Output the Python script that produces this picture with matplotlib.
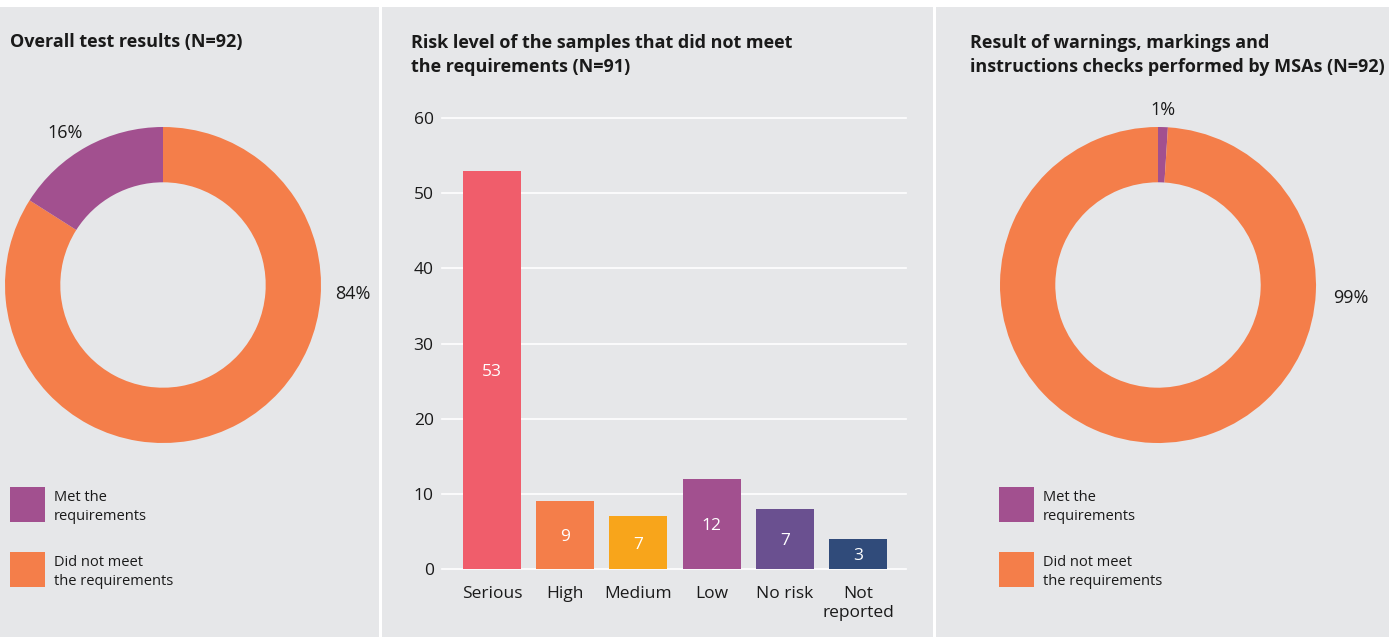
import matplotlib
matplotlib.use("Agg")
import matplotlib.pyplot as plt
from matplotlib.patches import Rectangle

# ---- data ----
overall_labels = ["Did not meet the requirements", "Met the requirements"]
overall_values = [84, 16]
risk_levels = ["Serious", "High", "Medium", "Low", "No risk", "Not\nreported"]
risk_bar_heights = [53, 9, 7, 12, 8, 4]      # heights as drawn
risk_value_labels = [53, 9, 7, 12, 7, 3]     # numbers printed on bars
warnings_values = [1, 99]                    # met, did not meet
legend_labels = ["Met the\nrequirements", "Did not meet\nthe requirements"]

PURPLE = "#a2508f"
ORANGE = "#f47e4a"
bar_colors = ["#f05d6b", "#f47e4a", "#f8a51b", "#a2508f", "#6a5090", "#304b7a"]
BG = "#e6e7e9"
TXT = "#1a1a1a"

W, H = 1389, 637
plt.rcParams['font.family'] = ['Open Sans', 'DejaVu Sans']


def px_axes(fig, x, y, w, h):
    # x, y = top-left in pixels
    return fig.add_axes([x / W, 1 - (y + h) / H, w / W, h / H])


def ftext(fig, x, y, s, **kw):
    fig.text(x / W, 1 - y / H, s, **kw)


fig = plt.figure(figsize=(W / 100, H / 100), dpi=100, facecolor="white")

# panel backgrounds
for x0, x1 in [(0, 379), (382, 933), (936, W)]:
    fig.patches.append(Rectangle((x0 / W, 0), (x1 - x0) / W, 1 - 7 / H,
                                 transform=fig.transFigure, facecolor=BG,
                                 edgecolor="none", zorder=-10))

title_kw = dict(fontsize=13, fontweight="bold", color=TXT, va="center",
                ha="left", linespacing=1.5)
ftext(fig, 10, 42, "Overall test results (N=92)", **title_kw)
ftext(fig, 411, 55, "Risk level of the samples that did not meet\nthe requirements (N=91)", **title_kw)
ftext(fig, 970, 55, "Result of warnings, markings and\ninstructions checks performed by MSAs (N=92)", **title_kw)

# ---- donut 1 ----
R = 158
ax1 = px_axes(fig, 163 - R, 285 - R, 2 * R, 2 * R)
ax1.pie(overall_values, colors=[ORANGE, PURPLE], startangle=90, counterclock=False,
        radius=1, wedgeprops=dict(width=0.35, edgecolor="none"))
ax1.set_xlim(-1, 1)
ax1.set_ylim(-1, 1)
ax1.set_aspect("equal")
ax1.axis("off")
ax1.text(-0.62, 0.96, f"{overall_values[1]}%", ha="center", va="center", fontsize=13, color=TXT)
ax1.text(1.2, -0.06, f"{overall_values[0]}%", ha="center", va="center", fontsize=13, color=TXT)

# ---- donut 3 ----
ax3 = px_axes(fig, 1158 - R, 285 - R, 2 * R, 2 * R)
ax3.pie(warnings_values, colors=[PURPLE, ORANGE], startangle=90, counterclock=False,
        radius=1, wedgeprops=dict(width=0.35, edgecolor="none"))
ax3.set_xlim(-1, 1)
ax3.set_ylim(-1, 1)
ax3.set_aspect("equal")
ax3.axis("off")
ax3.text(0.03, 1.11, f"{warnings_values[0]}%", ha="center", va="center", fontsize=13, color=TXT)
ax3.text(1.22, -0.08, f"{warnings_values[1]}%", ha="center", va="center", fontsize=13, color=TXT)

# ---- legends ----
for lx in (10, 999):
    for i, (lab, col) in enumerate(zip(legend_labels, [PURPLE, ORANGE])):
        y = 487 + i * 65
        fig.patches.append(Rectangle((lx / W, 1 - (y + 35) / H), 35 / W, 35 / H,
                                     transform=fig.transFigure, facecolor=col,
                                     edgecolor="none"))
        ftext(fig, lx + 44, y + 20, lab, fontsize=10.5, color=TXT, va="center",
              ha="left", linespacing=1.45)

# ---- bar chart ----
ax2 = px_axes(fig, 442, 118, 464, 451)
x = range(len(risk_levels))
ax2.bar(x, risk_bar_heights, width=0.79, color=bar_colors, zorder=3)
for xi, h, v in zip(x, risk_bar_heights, risk_value_labels):
    ax2.text(xi, h / 2 - 0.3, str(v), ha="center", va="center", color="white",
             fontsize=12.5, zorder=4)
ax2.set_xlim(-0.683, 5.656)
ax2.set_ylim(0, 60)
ax2.set_yticks(range(0, 61, 10))
ax2.set_xticks(list(x))
ax2.set_xticklabels(risk_levels, fontsize=12.5, color=TXT, linespacing=1.3)
ax2.tick_params(axis="y", labelsize=12.5, labelcolor=TXT, length=0, pad=6)
ax2.tick_params(axis="x", length=0, pad=12)
ax2.set_facecolor("none")
ax2.grid(axis="y", color="white", linewidth=1.2, zorder=0)
for sp in ax2.spines.values():
    sp.set_visible(False)
for gl in ax2.get_ygridlines():
    gl.set_clip_on(False)

fig.savefig("out.png", dpi=100, facecolor="white")
